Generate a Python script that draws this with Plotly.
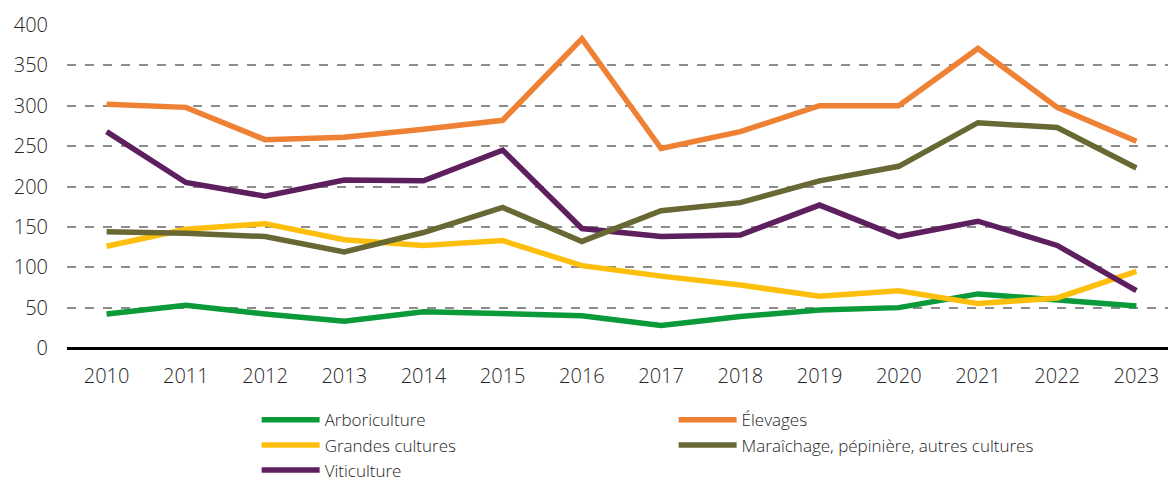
import plotly.graph_objects as go

years = list(range(2010, 2024))
arboriculture = [42, 53, 42, 33, 45, 43, 40, 28, 39, 47, 50, 67, 59, 52]
grandes_cultures = [126, 147, 154, 134, 127, 133, 102, 89, 78, 64, 71, 55, 62, 95]
viticulture = [268, 205, 188, 208, 207, 245, 148, 138, 140, 177, 138, 157, 127, 71]
elevages = [302, 298, 258, 261, 271, 282, 383, 247, 268, 300, 300, 371, 298, 256]
maraichage = [144, 142, 138, 119, 143, 174, 132, 170, 180, 207, 225, 279, 273, 223]

y_ticks = [0, 50, 100, 150, 200, 250, 300, 350, 400]

series = [
    ("Arboriculture", arboriculture, "#0B9A3A", "legend"),
    ("Grandes cultures", grandes_cultures, "#FDBF0B", "legend"),
    ("Viticulture", viticulture, "#5E1F5F", "legend"),
    ("Élevages", elevages, "#EE8134", "legend2"),
    ("Maraîchage, pépinière, autres cultures", maraichage, "#676833", "legend2"),
]

fig = go.Figure()
for name, vals, color, lg in series:
    fig.add_trace(go.Scatter(
        x=years, y=vals, name=name, mode="lines",
        line=dict(color=color, width=5.5),
        legend=lg,
    ))

font = dict(family="Open Sans, Lato, sans-serif", size=20, color="#262626", weight=300)
lfont = dict(family="Open Sans, Lato, sans-serif", size=17, color="#262626", weight=300)

fig.update_layout(
    width=1168, height=473,
    margin=dict(l=59, r=0, t=17, b=133, autoexpand=False),
    plot_bgcolor="white", paper_bgcolor="white",
    font=font,
    showlegend=True,
    xaxis=dict(
        range=[2009.5, 2023.5], tickmode="array", tickvals=years,
        ticktext=[str(y) for y in years],
        showgrid=False, showline=False, zeroline=False,
        ticks="outside", ticklen=10, tickcolor="rgba(0,0,0,0)",
        tickfont=font,
    ),
    yaxis=dict(
        range=[0, 400], tickmode="array", tickvals=y_ticks,
        showgrid=True, gridcolor="#8C8C8C", griddash="dash", gridwidth=1.5,
        zeroline=True, zerolinecolor="black", zerolinewidth=2.5,
        showline=False, ticks="outside", ticklen=14, tickcolor="rgba(0,0,0,0)",
        tickfont=font,
    ),
    legend=dict(
        x=0.171, y=-0.168, xanchor="left", yanchor="top",
        orientation="v", bgcolor="rgba(0,0,0,0)",
        font=lfont, tracegroupgap=0, itemwidth=58,
    ),
    legend2=dict(
        x=0.547, y=-0.168, xanchor="left", yanchor="top",
        orientation="v", bgcolor="rgba(0,0,0,0)",
        font=lfont, tracegroupgap=0, itemwidth=58,
    ),
)

fig.write_html("out.html")
